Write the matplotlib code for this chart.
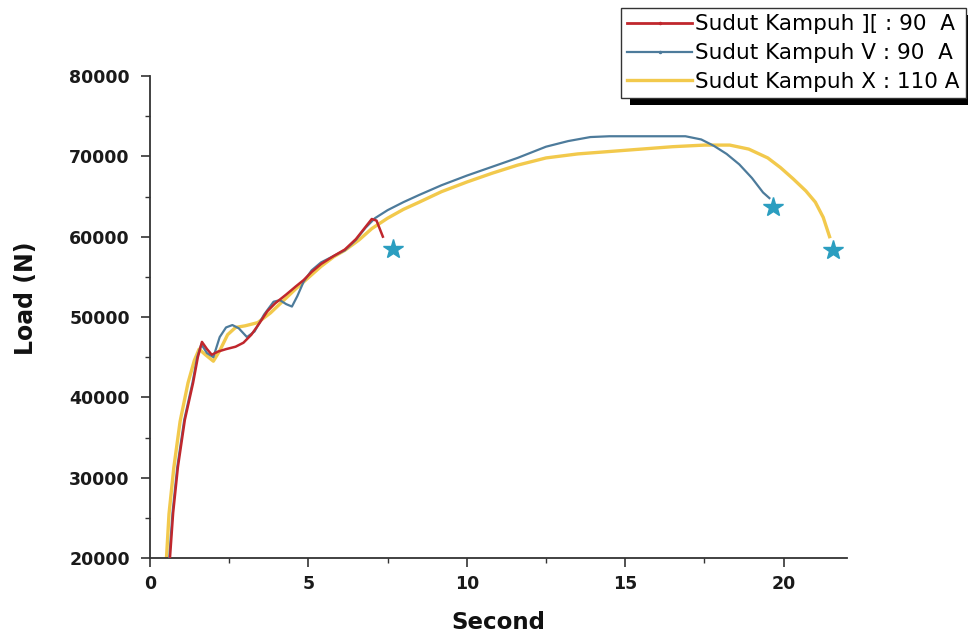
import matplotlib
matplotlib.use("Agg")
import matplotlib.pyplot as plt
from matplotlib.ticker import MultipleLocator
from matplotlib.patches import Rectangle

# Data
red_x = [0.63, 0.73, 0.88, 1.1, 1.36, 1.51, 1.64, 1.8, 1.95, 2.15, 2.4, 2.7, 2.95, 3.2, 3.45, 3.7, 3.95, 4.3, 4.6, 4.85,
         5.1, 5.4, 5.8, 6.15, 6.5, 6.8, 7.0, 7.15, 7.25, 7.35]
red_y = [20000, 25600, 31300, 37200, 41800, 45000, 46900, 46000, 45300, 45700, 46000, 46300, 46800, 47800, 49200, 50700, 51700, 52800, 53800, 54600,
         55600, 56600, 57600, 58400, 59700, 61200, 62200, 62000, 61000, 60000]

blue_x = [0.61, 0.71, 0.86, 1.08, 1.34, 1.49, 1.62, 1.8, 2.0, 2.2, 2.4, 2.6, 2.8, 3.06, 3.3, 3.6, 3.9, 4.1, 4.3, 4.48, 4.65, 4.85,
          5.1, 5.4, 5.8, 6.15, 6.5, 6.8, 7.1, 7.5, 8.0, 8.5, 9.2, 10.0, 10.8, 11.6, 12.5, 13.2, 13.9, 14.5, 15.0, 16.0, 16.9, 17.4, 17.8, 18.2, 18.6, 19.0, 19.35, 19.55]
blue_y = [20000, 25600, 31300, 37200, 41800, 45000, 46600, 45500, 45000, 47500, 48700, 49000, 48600, 47500, 48200, 50300, 51900, 52100, 51600, 51300, 52600, 54400,
          55800, 56800, 57600, 58300, 59600, 61100, 62300, 63300, 64300, 65200, 66400, 67600, 68700, 69800, 71200, 71900, 72400, 72500, 72500, 72500, 72500, 72100, 71300, 70300, 69000, 67300, 65500, 64800]

yellow_x = [0.52, 0.6, 0.75, 0.95, 1.2, 1.4, 1.55, 1.75, 2.0, 2.2, 2.45, 2.7, 3.0, 3.4, 3.8, 4.2, 4.6, 5.0, 5.4, 5.8, 6.15, 6.6, 7.0,
            7.5, 8.0, 8.5, 9.2, 10.0, 10.8, 11.6, 12.5, 13.5, 14.5, 15.5, 16.5, 17.5, 18.3, 18.9, 19.5, 19.9, 20.3, 20.7, 21.0, 21.25, 21.45]
yellow_y = [20000, 25500, 31200, 37000, 41800, 44600, 46000, 45300, 44500, 45800, 47800, 48700, 48900, 49300, 50500, 52000, 53500, 54900, 56300, 57500, 58300, 59600, 61000,
            62300, 63400, 64300, 65600, 66800, 67900, 68900, 69800, 70300, 70600, 70900, 71200, 71400, 71400, 70900, 69800, 68600, 67200, 65700, 64300, 62400, 60000]

star_x = [7.67, 19.67, 21.55]
star_y = [58500, 63700, 58400]

labels = ["Sudut Kampuh ][ : 90  A", "Sudut Kampuh V : 90  A", "Sudut Kampuh X : 110 A"]

plt.rcParams['font.family'] = ['DejaVu Sans']

fig = plt.figure(figsize=(9.68, 6.36), dpi=100)
ax = fig.add_axes([150/968, 1-558/636, (847-150)/968, (558-76)/636])

ax.plot(yellow_x, yellow_y, color='#f2c94c', lw=2.4, zorder=2)
ax.plot(blue_x, blue_y, color='#4d7b9b', lw=1.6, zorder=3)
ax.plot(red_x, red_y, color='#c0272d', lw=1.8, zorder=4)
ax.plot(star_x, star_y, linestyle='none', marker='*', ms=15, color='#2b9ec0', zorder=5)

# legend handles
h_red, = ax.plot([], [], color='#c0272d', lw=2.0, marker='.', ms=3, markevery=[1])
h_blue, = ax.plot([], [], color='#4d7b9b', lw=1.6, marker='.', ms=3, markevery=[1])
h_yel, = ax.plot([], [], color='#f2c94c', lw=2.4)

ax.set_xlim(0, 22)
ax.set_ylim(20000, 80000)
ax.xaxis.set_major_locator(MultipleLocator(5))
ax.xaxis.set_minor_locator(MultipleLocator(2.5))
ax.yaxis.set_major_locator(MultipleLocator(10000))
ax.yaxis.set_minor_locator(MultipleLocator(5000))
ax.spines['top'].set_visible(False)
ax.spines['right'].set_visible(False)
for s in ('left', 'bottom'):
    ax.spines[s].set_color('#333333')
    ax.spines[s].set_linewidth(1.3)
ax.tick_params(which='major', direction='out', length=6.5, width=1.2, color='#333333', labelsize=12.5)
ax.tick_params(axis='y', which='major', pad=8)
ax.tick_params(axis='x', which='major', pad=6)
ax.tick_params(which='minor', direction='out', length=3.5, width=1.0, color='#333333')
for t in ax.get_xticklabels() + ax.get_yticklabels():
    t.set_fontweight('bold')
    t.set_color('#1a1a1a')

ax.set_xlabel('Second', fontsize=16.5, fontweight='bold', color='#111111')
ax.set_ylabel('Load (N)', fontsize=17, fontweight='bold', color='#111111')
ax.xaxis.set_label_coords(0.5, -0.11)
ax.yaxis.set_label_coords(-0.16, 0.539)

leg = ax.legend([h_red, h_blue, h_yel], labels,
                loc='upper right', bbox_to_anchor=(966/968, 1-8/636), bbox_transform=fig.transFigure,
                fontsize=15.5, frameon=True, fancybox=False, shadow=False, framealpha=1.0,
                handlelength=3.0, borderpad=0.3, labelspacing=0.4, handletextpad=0.15, borderaxespad=0)
leg.get_frame().set_edgecolor('#333333')
leg.get_frame().set_linewidth(1.0)
leg.set_zorder(10)

fig.canvas.draw()
bb = leg.get_window_extent().transformed(fig.transFigure.inverted())
shadow = Rectangle((bb.x0 + 9/968, bb.y0 - 7/636), bb.width, bb.height, transform=fig.transFigure,
                   facecolor='black', edgecolor='none', zorder=9, clip_on=False)
ax.add_artist(shadow)

fig.savefig('out.png', dpi=100)
